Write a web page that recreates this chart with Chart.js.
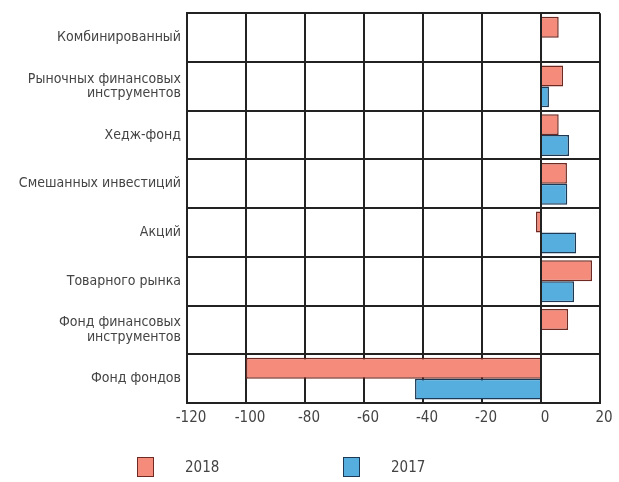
<!DOCTYPE html>
<html>
<head>
<meta charset="utf-8">
<script src="https://cdn.jsdelivr.net/npm/chart.js@4/dist/chart.umd.min.js"></script>
<style>
  body { margin: 0; background: #fff; }
  #wrap { position: relative; width: 619px; height: 482px; }
  #legend { position: absolute; left: 0; top: 456px; width: 619px; height: 24px;
    font-family: 'Liberation Sans Narrow', 'DejaVu Sans Condensed', sans-serif; font-size: 15px; color: #444; }
  .item { position: absolute; top: 0; height: 22px; line-height: 22px; }
  .box { position: absolute; top: 1px; width: 15px; height: 18px; border: 1.5px solid; }
  .txt { position: absolute; top: 0; white-space: nowrap; }
</style>
</head>
<body>
<div id="wrap">
  <canvas id="chart" width="619" height="482"></canvas>
  <div id="legend"></div>
</div>
<script>
const categories = [
  'Комбинированный',
  ['Рыночных финансовых', 'инструментов'],
  'Хедж-фонд',
  'Смешанных инвестиций',
  'Акций',
  'Товарного рынка',
  ['Фонд финансовых', 'инструментов'],
  'Фонд фондов'
];
const values2018 = [6, 7.5, 6, 8.8, -1.7, 17.3, 9.2, -100];
const values2017 = [0.4, 2.7, 9.5, 8.9, 11.9, 11.2, 0, -42.7];
const seriesNames = ['2018', '2017'];
const xTicks = { min: -120, max: 20, step: 20 };

const fontFamily = "'Liberation Sans Narrow', 'DejaVu Sans Condensed', sans-serif";
const textColor = '#444';
const gridColor = '#222';

const ctx = document.getElementById('chart').getContext('2d');
const chart = new Chart(ctx, {
  type: 'bar',
  data: {
    labels: categories,
    datasets: [{
      label: seriesNames[0],
      data: values2018,
      backgroundColor: '#f58b7b',
      borderColor: '#6e2a22',
      borderWidth: 1.5,
      categoryPercentage: 0.86,
      barPercentage: 1
    }, {
      label: seriesNames[1],
      data: values2017,
      backgroundColor: '#55aede',
      borderColor: '#1c3a55',
      borderWidth: 1.5,
      categoryPercentage: 0.86,
      barPercentage: 1
    }]
  },
  options: {
    indexAxis: 'y',
    responsive: false,
    animation: false,
    layout: { padding: { top: 13, right: 19, bottom: 49, left: 0 } },
    plugins: {
      legend: { display: false },
      tooltip: { enabled: false }
    },
    scales: {
      x: {
        min: xTicks.min,
        max: xTicks.max,
        ticks: {
          stepSize: xTicks.step,
          color: textColor,
          font: { family: fontFamily, size: 15 },
          labelOffset: 4,
          padding: 6
        },
        grid: { color: gridColor, lineWidth: 2, drawTicks: false },
        border: { color: gridColor, width: 2 },
        afterFit(scale) { scale.height = 30; }
      },
      y: {
        ticks: {
          color: textColor,
          font: { family: fontFamily, size: 14, lineHeight: 1.05 },
          padding: 6
        },
        grid: { color: gridColor, lineWidth: 2, drawTicks: false, offset: true },
        border: { color: gridColor, width: 2 },
        afterFit(scale) { scale.width = 187; }
      }
    }
  }
});

// html legend built from the datasets
const legend = document.getElementById('legend');
const legendPos = [137, 343];
chart.data.datasets.forEach((ds, i) => {
  const item = document.createElement('div');
  item.className = 'item';
  item.style.left = legendPos[i] + 'px';
  item.innerHTML = `<span class="box" style="background:${ds.backgroundColor};border-color:${ds.borderColor}"></span>` +
    `<span class="txt" style="left:48px">${ds.label}</span>`;
  legend.appendChild(item);
});
</script>
</body>
</html>
